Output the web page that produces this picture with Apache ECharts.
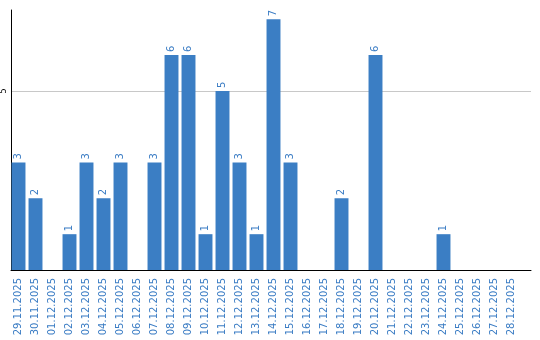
<!DOCTYPE html>
<html><head><meta charset="utf-8">
<script src="https://cdn.jsdelivr.net/npm/echarts@6/dist/echarts.min.js"></script>
<style>html,body{margin:0;padding:0;background:#fff}#c{width:540px;height:340px}</style>
</head><body><div id="c"></div>
<script>
const categories = ["29.11.2025","30.11.2025","01.12.2025","02.12.2025","03.12.2025","04.12.2025","05.12.2025","06.12.2025","07.12.2025","08.12.2025","09.12.2025","10.12.2025","11.12.2025","12.12.2025","13.12.2025","14.12.2025","15.12.2025","16.12.2025","17.12.2025","18.12.2025","19.12.2025","20.12.2025","21.12.2025","22.12.2025","23.12.2025","24.12.2025","25.12.2025","26.12.2025","27.12.2025","28.12.2025"];
const values = [3,2,0,1,3,2,3,0,3,6,6,1,5,3,1,7,3,0,0,2,0,6,0,0,0,1,0,0,0,0];
const yTicks = [5];
const yMax = 7.26;
const chart = echarts.init(document.getElementById('c'));
chart.setOption({
  animation:false,
  grid:[
    {left:10,right:9,top:10,bottom:70,containLabel:false},
    {left:10,right:20,top:10,bottom:70,containLabel:false}
  ],
  xAxis:[
    {gridIndex:0,type:'value',min:0,max:1,
      axisLine:{show:true,onZero:false,lineStyle:{color:'#000',width:1}},
      axisTick:{show:false},axisLabel:{show:false},splitLine:{show:false}},
    {gridIndex:1,type:'category',data:categories,
      axisLine:{show:false},axisTick:{show:false},
      axisLabel:{rotate:90,interval:0,color:'#3a7cc4',fontFamily:'DejaVu Sans',fontSize:10,margin:8}}
  ],
  yAxis:[
    {gridIndex:0,type:'value',min:0,max:yMax,interval:5,
      axisLine:{show:true,onZero:false,lineStyle:{color:'#000',width:1}},
      axisTick:{show:false},
      splitLine:{show:true,showMinLine:false,showMaxLine:false,lineStyle:{color:'#c8c8c8',width:1}},
      axisLabel:{rotate:90,color:'#000',fontFamily:'DejaVu Sans',fontSize:8,margin:3,
        formatter:v=>yTicks.includes(v)?String(v):''}},
    {gridIndex:1,type:'value',min:0,max:yMax,show:false}
  ],
  series:[{type:'bar',xAxisIndex:1,yAxisIndex:1,data:values,barCategoryGap:'18%',
    itemStyle:{color:'#3b7ec4'},
    label:{show:true,position:'top',rotate:90,align:'left',verticalAlign:'middle',distance:3,color:'#3a7cc4',fontFamily:'DejaVu Sans',fontSize:10,
      formatter:p=>p.value>0?String(p.value):''}}]
});
</script></body></html>
